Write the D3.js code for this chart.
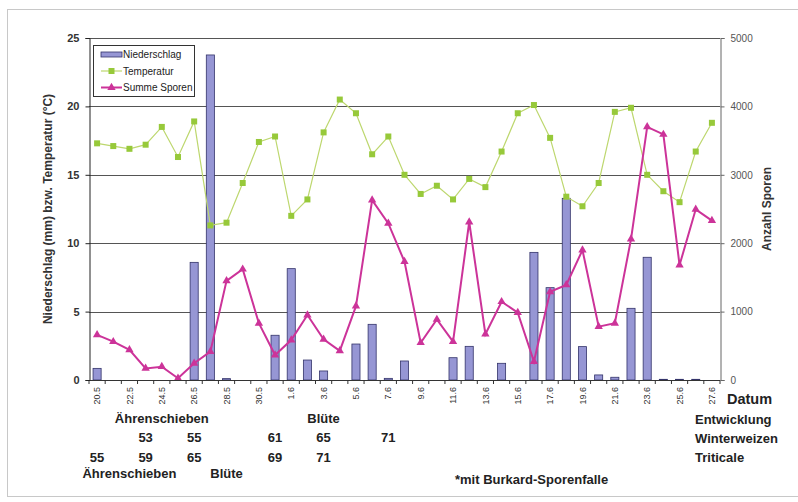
<html>
  <head>
    <meta charset="UTF-8" />
    <title>Niederschlag, Temperatur, Sporen</title>
    <script src="https://d3js.org/d3.v7.min.js"></script>
    <style>
      body { margin: 0; background: #fff; }
      svg text { font-family: "Liberation Sans", Arial, sans-serif; }
    </style>
  </head>
  <body>
    <div id="chart"></div>

    <script>
      ///////////////////////data///////////////////////////////

      let dates = [
        "20.5", "21.5", "22.5", "23.5", "24.5", "25.5", "26.5", "27.5", "28.5", "29.5",
        "30.5", "31.5", "1.6", "2.6", "3.6", "4.6", "5.6", "6.6", "7.6", "8.6",
        "9.6", "10.6", "11.6", "12.6", "13.6", "14.6", "15.6", "16.6", "17.6", "18.6",
        "19.6", "20.6", "21.6", "22.6", "23.6", "24.6", "25.6", "26.6", "27.6",
      ];

      // mm
      let niederschlag = [
        0.85, 0, 0, 0, 0, 0, 8.6, 23.76, 0.1, 0,
        0, 3.27, 8.14, 1.46, 0.66, 0, 2.63, 4.07, 0.12, 1.39,
        0, 0, 1.63, 2.46, 0, 1.22, 0, 9.33, 6.75, 13.28,
        2.44, 0.37, 0.2, 5.24, 8.97, 0.05, 0.05, 0.05, 0,
      ];

      // °C
      let temperatur = [
        17.3, 17.1, 16.9, 17.2, 18.5, 16.3, 18.9, 11.3, 11.5, 14.4,
        17.4, 17.8, 12.0, 13.2, 18.1, 20.5, 19.5, 16.5, 17.8, 15.0,
        13.6, 14.2, 13.2, 14.7, 14.1, 16.7, 19.5, 20.1, 17.7, 13.4,
        12.7, 14.4, 19.6, 19.9, 15.0, 13.8, 13.0, 16.7, 18.8,
      ];

      // Anzahl Sporen (rechte Achse)
      let sporen = [
        660, 560, 440, 170, 195, 25, 245, 415, 1450, 1620,
        830, 365, 585, 950, 595, 425, 1080, 2630, 2290, 1730,
        545, 885, 560, 2310, 670, 1145, 985, 270, 1290, 1390,
        1900, 780, 830, 2060, 3700, 3590, 1680, 2495, 2330,
      ];

      let leftTicks = [0, 5, 10, 15, 20, 25];
      let rightTicks = [0, 1000, 2000, 3000, 4000, 5000];

      // Entwicklungsstadien (Datum -> Stadium)
      let winterweizen = [
        { date: "23.5", bbch: "53" },
        { date: "26.5", bbch: "55" },
        { date: "31.5", bbch: "61" },
        { date: "3.6", bbch: "65" },
        { date: "7.6", bbch: "71" },
      ];
      let triticale = [
        { date: "20.5", bbch: "55" },
        { date: "23.5", bbch: "59" },
        { date: "26.5", bbch: "65" },
        { date: "31.5", bbch: "69" },
        { date: "3.6", bbch: "71" },
      ];
      let phasenWW = [
        { date: "24.5", name: "Ährenschieben" },
        { date: "3.6", name: "Blüte" },
      ];
      let phasenTr = [
        { date: "22.5", name: "Ährenschieben" },
        { date: "28.5", name: "Blüte" },
      ];

      let rowLabels = ["Entwicklung", "Winterweizen", "Triticale"];

      let legend = [
        { name: "Niederschlag", type: "bar" },
        { name: "Temperatur", type: "temp" },
        { name: "Summe Sporen", type: "sporen" },
      ];

      ///////////////////////chart///////////////////////////////

      let width = 798,
        height = 502;
      let mLeft = 89,
        mRight = 720,
        mTop = 38,
        mBottom = 380;

      let barColor = "#9696d4",
        barStroke = "#33336a",
        tempColor = "#97c93a",
        tempLine = "#bdd76e",
        sporColor = "#cc3399";

      let svg = d3
        .select("#chart")
        .append("svg")
        .attr("width", width)
        .attr("height", height);

      // heller Rahmen
      svg
        .append("rect")
        .attr("x", 7.5)
        .attr("y", 9.5)
        .attr("width", 820)
        .attr("height", 487)
        .attr("fill", "none")
        .attr("stroke", "#c8c8c8");

      let x = d3.scaleBand().domain(dates).range([mLeft, mRight]);
      let cx = (d) => x(d) + x.bandwidth() / 2;
      let yL = d3.scaleLinear().domain([0, 25]).range([mBottom, mTop]);
      let yR = d3.scaleLinear().domain([0, 5000]).range([mBottom, mTop]);

      // gridlines
      svg
        .append("g")
        .selectAll("line")
        .data(leftTicks.slice(1))
        .enter()
        .append("line")
        .attr("x1", mLeft)
        .attr("x2", mRight)
        .attr("y1", (d) => Math.round(yL(d)) + 0.5)
        .attr("y2", (d) => Math.round(yL(d)) + 0.5)
        .attr("stroke", "#555")
        .attr("stroke-width", 1);

      // Niederschlag
      let bw = x.bandwidth() * 0.5;
      svg
        .append("g")
        .selectAll("rect")
        .data(niederschlag)
        .enter()
        .append("rect")
        .attr("x", (d, i) => cx(dates[i]) - bw / 2)
        .attr("y", (d) => yL(d))
        .attr("width", bw)
        .attr("height", (d) => mBottom - yL(d))
        .attr("fill", barColor)
        .attr("stroke", barStroke)
        .attr("stroke-width", 0.8)
        .attr("opacity", (d) => (d > 0 ? 1 : 0));

      // Temperatur
      svg
        .append("path")
        .datum(temperatur)
        .attr("fill", "none")
        .attr("stroke", tempLine)
        .attr("stroke-width", 1.2)
        .attr(
          "d",
          d3
            .line()
            .x((d, i) => cx(dates[i]))
            .y((d) => yL(d))
        );
      svg
        .append("g")
        .selectAll("rect")
        .data(temperatur)
        .enter()
        .append("rect")
        .attr("x", (d, i) => cx(dates[i]) - 3)
        .attr("y", (d) => yL(d) - 3)
        .attr("width", 6)
        .attr("height", 6)
        .attr("fill", tempColor);

      // Summe Sporen
      svg
        .append("path")
        .datum(sporen)
        .attr("fill", "none")
        .attr("stroke", sporColor)
        .attr("stroke-width", 2)
        .attr(
          "d",
          d3
            .line()
            .x((d, i) => cx(dates[i]))
            .y((d) => yR(d))
        );
      let tri = d3.symbol().type(d3.symbolTriangle).size(30);
      svg
        .append("g")
        .selectAll("path")
        .data(sporen)
        .enter()
        .append("path")
        .attr("d", tri)
        .attr(
          "transform",
          (d, i) => "translate(" + cx(dates[i]) + "," + yR(d) + ")"
        )
        .attr("fill", sporColor);

      ///////////////////////axes///////////////////////////////

      // x axis
      svg
        .append("line")
        .attr("x1", mLeft)
        .attr("x2", mRight)
        .attr("y1", mBottom + 0.5)
        .attr("y2", mBottom + 0.5)
        .attr("stroke", "#333");
      svg
        .append("g")
        .selectAll("line")
        .data(dates.concat(["end"]))
        .enter()
        .append("line")
        .attr("x1", (d) => (d == "end" ? mRight : x(d)))
        .attr("x2", (d) => (d == "end" ? mRight : x(d)))
        .attr("y1", mBottom)
        .attr("y2", mBottom + 4)
        .attr("stroke", "#333");

      let xAxis = svg
        .append("g")
        .attr("transform", "translate(0," + mBottom + ")")
        .call(
          d3
            .axisBottom(x)
            .tickValues(dates.filter((d, i) => i % 2 == 0))
            .tickSize(0)
        );
      xAxis.select(".domain").remove();
      xAxis
        .selectAll("text")
        .attr("transform", "rotate(-90)")
        .attr("x", -7)
        .attr("y", 0)
        .attr("dy", "0.35em")
        .attr("text-anchor", "end")
        .attr("fill", "#333")
        .style("font-size", "9px")
        .style("font-family", "Liberation Sans, Arial, sans-serif");

      // left axis
      let yAxisL = svg
        .append("g")
        .attr("transform", "translate(" + (mLeft + 0.5) + ",0)")
        .call(d3.axisLeft(yL).tickValues(leftTicks).tickSize(4).tickPadding(6));
      yAxisL.select(".domain").attr("stroke", "#222");
      yAxisL.selectAll(".tick line").attr("stroke", "#222");
      yAxisL
        .selectAll("text")
        .attr("fill", "#333")
        .style("font-size", "11px")
        .style("font-weight", "bold")
        .style("font-family", "Liberation Sans, Arial, sans-serif");

      // right axis
      let yAxisR = svg
        .append("g")
        .attr("transform", "translate(" + (mRight + 0.5) + ",0)")
        .call(
          d3
            .axisRight(yR)
            .tickValues(rightTicks)
            .tickFormat(d3.format("d"))
            .tickSize(4)
            .tickPadding(6)
        );
      yAxisR.select(".domain").attr("stroke", "#666");
      yAxisR.selectAll(".tick line").attr("stroke", "#666");
      yAxisR
        .selectAll("text")
        .attr("fill", "#555")
        .style("font-size", "10px")
        .style("font-family", "Liberation Sans, Arial, sans-serif");

      // axis titles
      svg
        .append("text")
        .attr("transform", "translate(52," + (mTop + mBottom) / 2 + ") rotate(-90)")
        .attr("text-anchor", "middle")
        .attr("fill", "#333")
        .style("font-size", "12px")
        .style("font-weight", "bold")
        .text("Niederschlag (mm) bzw. Temperatur (°C)");
      svg
        .append("text")
        .attr("transform", "translate(771," + (mTop + mBottom) / 2 + ") rotate(-90)")
        .attr("text-anchor", "middle")
        .attr("fill", "#333")
        .style("font-size", "12px")
        .style("font-weight", "bold")
        .text("Anzahl Sporen");

      ///////////////////////legend///////////////////////////////

      let lg = svg.append("g").attr("transform", "translate(93,45)");
      lg.append("rect")
        .attr("x", 0.5)
        .attr("y", 0.5)
        .attr("width", 101)
        .attr("height", 51)
        .attr("fill", "#fff")
        .attr("stroke", "#333");
      legend.forEach((e, i) => {
        let yy = 9.5 + i * 16.5;
        if (e.type == "bar") {
          lg.append("rect")
            .attr("x", 8)
            .attr("y", yy - 2.5)
            .attr("width", 21)
            .attr("height", 5)
            .attr("fill", barColor)
            .attr("stroke", barStroke)
            .attr("stroke-width", 0.8);
        } else {
          let c = e.type == "temp" ? tempLine : sporColor;
          lg.append("line")
            .attr("x1", 8)
            .attr("x2", 29)
            .attr("y1", yy)
            .attr("y2", yy)
            .attr("stroke", c)
            .attr("stroke-width", e.type == "temp" ? 1.2 : 2);
          if (e.type == "temp") {
            lg.append("rect")
              .attr("x", 15.5)
              .attr("y", yy - 3)
              .attr("width", 6)
              .attr("height", 6)
              .attr("fill", tempColor);
          } else {
            lg.append("path")
              .attr("d", tri)
              .attr("transform", "translate(18.5," + yy + ")")
              .attr("fill", sporColor);
          }
        }
        lg.append("text")
          .attr("x", 30)
          .attr("y", yy)
          .attr("dy", "0.35em")
          .attr("fill", "#222")
          .style("font-size", "10px")
          .text(e.name);
      });

      ///////////////////////Entwicklung///////////////////////////////

      function boldText(str, xx, yy, size, anchor) {
        svg
          .append("text")
          .attr("x", xx)
          .attr("y", yy)
          .attr("text-anchor", anchor || "middle")
          .attr("fill", "#222")
          .style("font-size", size + "px")
          .style("font-weight", "bold")
          .text(str);
      }

      boldText("Datum", 727, 404, 14.5, "start");
      rowLabels.forEach((d, i) => boldText(d, 695, [424, 443, 462][i], 13, "start"));

      phasenWW.forEach((d) => boldText(d.name, cx(d.date), 423, 13));
      winterweizen.forEach((d) => boldText(d.bbch, cx(d.date), 442, 13));
      triticale.forEach((d) => boldText(d.bbch, cx(d.date), 462, 13));
      phasenTr.forEach((d) => boldText(d.name, cx(d.date), 478, 13));

      boldText("*mit Burkard-Sporenfalle", 455, 484, 13, "start");
    </script>
  </body>
</html>
